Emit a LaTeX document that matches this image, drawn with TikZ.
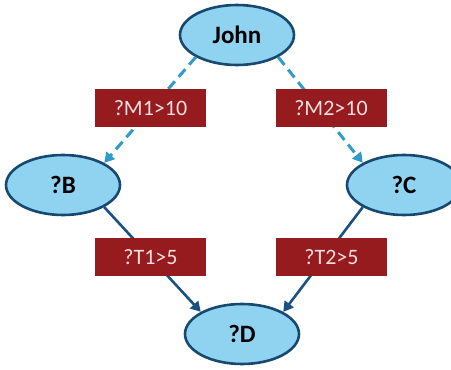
\documentclass[tikz,border=0pt]{standalone}
\usepackage{fontspec}
\setmainfont{Carlito}
\usetikzlibrary{shapes.geometric,arrows.meta}
\definecolor{nodefill}{RGB}{143,211,241}
\definecolor{nodeline}{RGB}{22,72,112}
\definecolor{condfill}{RGB}{150,27,30}
\definecolor{condtext}{RGB}{245,222,222}
\definecolor{matchedge}{RGB}{46,155,202}
\definecolor{pathedge}{RGB}{24,82,130}
\tikzset{
  varnode/.style={ellipse, draw=nodeline, fill=nodefill, line width=2.6pt,
    minimum width=114pt, minimum height=60pt, inner sep=0pt,
    font=\fontsize{25}{25}\selectfont\bfseries},
  cond/.style={rectangle, fill=condfill, text=condtext,
    minimum width=111pt, minimum height=38pt, inner sep=0pt,
    font=\fontsize{22}{22}\selectfont},
  matchlink/.style={draw=matchedge, line width=3pt, dash pattern=on 10pt off 6pt,
    -{Triangle[length=10pt,width=11pt]}},
  pathlink/.style={draw=pathedge, line width=2.6pt,
    -{Triangle[length=10pt,width=11pt]}}
}
\begin{document}
\begin{tikzpicture}[x=1pt,y=1pt]
\useasboundingbox (0,0) rectangle (451,370);
% variable nodes
\node[varnode] (john) at (237,335) {John};
\node[varnode] (b) at (63,185) {?B};
\node[varnode] (c) at (404,185) {?C};
\node[varnode] (d) at (242,36) {?D};
% connectors
\draw[matchlink] (john.south west) -- (b.north east);
\draw[matchlink] (john.south east) -- (c.north west);
\draw[pathlink] (b.south east) -- (d.north west);
\draw[pathlink] (c.south west) -- (d.north east);
% condition labels
\node[cond] (m1) at (150.5,262) {?M1>10};
\node[cond] (m2) at (331,262) {?M2>10};
\node[cond] (t1) at (150.5,112.5) {?T1>5};
\node[cond] (t2) at (331.5,112.5) {?T2>5};
\end{tikzpicture}
\end{document}
